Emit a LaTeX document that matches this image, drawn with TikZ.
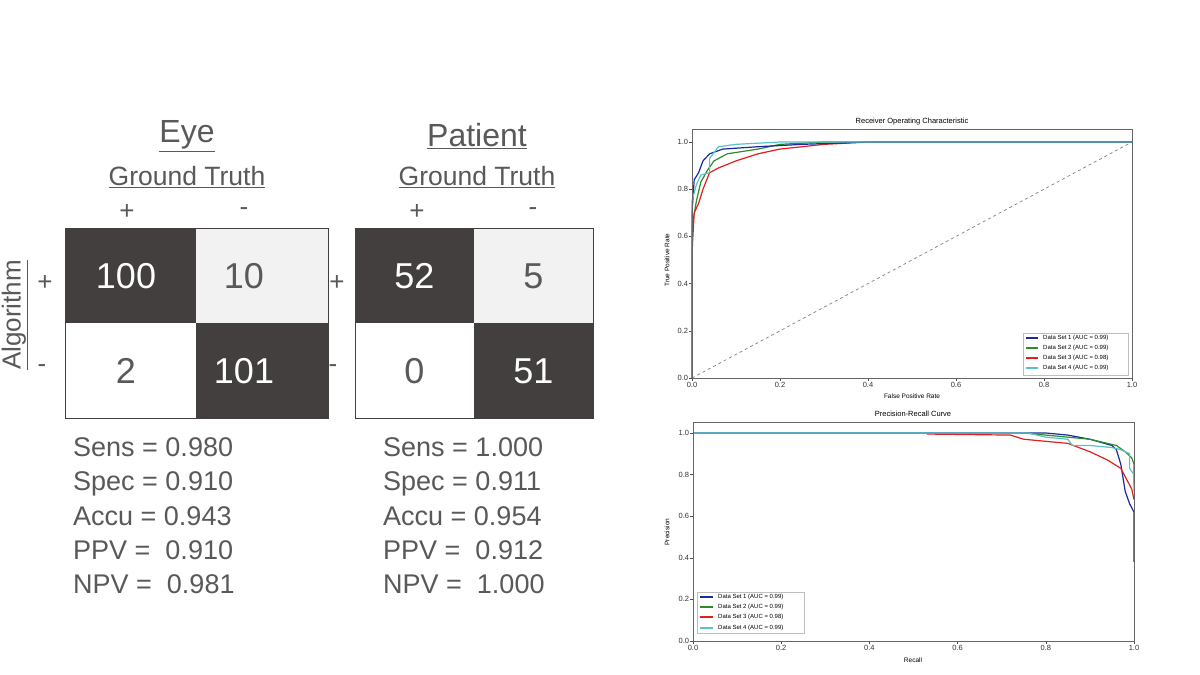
\documentclass[tikz,border=0pt]{standalone}
\usepackage{fontspec}
\setmainfont{Liberation Sans}
\begin{document}
\begin{tikzpicture}[x=1pt,y=-1pt,
  txt/.style={text=tgray,inner sep=0pt},
  dcell/.style={fill=dgray},
  lcell/.style={fill=lgray},
  big/.style={font=\fontsize{36}{36}\selectfont,inner sep=0pt},
  stat/.style={txt,anchor=base west,font=\fontsize{27}{27}\selectfont},
  tick/.style={font=\fontsize{7.5}{7.5}\selectfont,text=black!80,inner sep=1pt},
  leg/.style={font=\fontsize{6}{6}\selectfont,anchor=west,inner sep=0pt},
  cv/.style={line width=1.2pt,line join=round}]
\definecolor{tgray}{HTML}{595959}
\definecolor{dgray}{HTML}{433F3E}
\definecolor{lgray}{HTML}{F2F2F2}
\definecolor{cblue}{HTML}{1C2A9A}
\definecolor{cgreen}{HTML}{2E8B2E}
\definecolor{cred}{HTML}{E0201C}
\definecolor{ccyan}{HTML}{55C3C8}
\useasboundingbox (0,0) rectangle (1200,675);
\fill[white] (0,0) rectangle (1200,675);
% ---- Eye
\node[txt,font=\fontsize{32}{32}\selectfont] (eye) at (187,136) {\underline{Eye}};
\node[txt,font=\fontsize{26.5}{26.5}\selectfont] (gt1) at (187,177) {\underline{Ground Truth}};
\node[txt,font=\fontsize{26}{26}\selectfont] (p1) at (127,212) {+};
\node[txt,font=\fontsize{26}{26}\selectfont] (m1) at (244,212) {-};
\fill[dcell] (65,228) rectangle (196,323);
\fill[lcell] (196,228) rectangle (328,323);
\fill[white] (65,323) rectangle (196,418);
\fill[dcell] (196,323) rectangle (328,418);
\draw[dgray,line width=1pt] (65,228) rectangle (328,418);
\node[big,text=white] (e11) at (126,276) {100};
\node[big,text=tgray] (e12) at (244,276) {10};
\node[big,text=tgray] (e21) at (126,371) {2};
\node[big,text=white] (e22) at (244,371) {101};
% ---- Patient
\node[txt,font=\fontsize{32}{32}\selectfont] (pat) at (477,136) {\underline{Patient}};
\node[txt,font=\fontsize{26.5}{26.5}\selectfont] (gt2) at (477,177) {\underline{Ground Truth}};
\node[txt,font=\fontsize{26}{26}\selectfont] (p2) at (417,212) {+};
\node[txt,font=\fontsize{26}{26}\selectfont] (m2) at (533,212) {-};
\fill[dcell] (355,228) rectangle (474,323);
\fill[lcell] (474,228) rectangle (593,323);
\fill[white] (355,323) rectangle (474,418);
\fill[dcell] (474,323) rectangle (593,418);
\draw[dgray,line width=1pt] (355,228) rectangle (593,418);
\node[big,text=white] (p11) at (414.5,276) {52};
\node[big,text=tgray] (p12) at (533.5,276) {5};
\node[big,text=tgray] (p21) at (414.5,371) {0};
\node[big,text=white] (p22) at (533.5,371) {51};
% ---- Algorithm
\node[txt,font=\fontsize{26}{26}\selectfont,rotate=90] (alg) at (15,315) {\underline{Algorithm}};
\node[txt,font=\fontsize{26}{26}\selectfont] (ap1) at (45,283) {+};
\node[txt,font=\fontsize{26}{26}\selectfont] (am1) at (42,369) {-};
\node[txt,font=\fontsize{26}{26}\selectfont] (ap2) at (337,283) {+};
\node[txt,font=\fontsize{26}{26}\selectfont] (am2) at (333,369) {-};
% ---- stats
\node[stat] (s1) at (73,456) {Sens = 0.980};
\node[stat] (s2) at (73,490) {Spec = 0.910};
\node[stat] (s3) at (73,525) {Accu = 0.943};
\node[stat] (s4) at (73,559) {PPV =\ \ 0.910};
\node[stat] (s5) at (73,593) {NPV =\ \ 0.981};
\node[stat] (t1) at (383,456) {Sens = 1.000};
\node[stat] (t2) at (383,490) {Spec = 0.911};
\node[stat] (t3) at (383,525) {Accu = 0.954};
\node[stat] (t4) at (383,559) {PPV =\ \ 0.912};
\node[stat] (t5) at (383,593) {NPV =\ \ 1.000};
% ---- ROC
\node[font=\fontsize{7.5}{7.5}\selectfont] (roct) at (912,122) {Receiver Operating Characteristic};
\node[font=\fontsize{6.5}{6.5}\selectfont] (rocx) at (912,396) {False Positive Rate};
\node[font=\fontsize{6.5}{6.5}\selectfont,rotate=90] (rocy) at (667,260) {True Positive Rate};
\begin{scope}[shift={(692,378)},x=440pt,y=236pt]
\foreach \v in {0.0,0.2,0.4,0.6,0.8,1.0}{
  \draw[black!70,line width=0.4pt] (\v,0) -- (\v,-0.012);
  \node[tick,below] at (\v,-0.012) {\v};
  \draw[black!70,line width=0.4pt] (0,\v) -- (-0.006,\v);
  \node[tick,left] at (-0.006,\v) {\v};}
\draw[gray,dashed,line width=0.7pt] (0,0) -- (1,1);
\draw[cv,cgreen] (0,0)--(0,0.64)--(0.01,0.75)--(0.02,0.83)--(0.035,0.88)--(0.05,0.92)--(0.08,0.95)--(0.15,0.97)--(0.2,0.99)--(0.3,1)--(1,1);
\draw[cv,cred] (0,0)--(0,0.53)--(0.005,0.7)--(0.015,0.74)--(0.025,0.8)--(0.04,0.87)--(0.06,0.89)--(0.1,0.92)--(0.15,0.95)--(0.2,0.97)--(0.3,0.99)--(0.4,1)--(1,1);
\draw[cv,cblue] (0,0)--(0,0.7)--(0.005,0.84)--(0.015,0.87)--(0.025,0.92)--(0.04,0.95)--(0.07,0.97)--(0.15,0.98)--(0.25,0.99)--(0.4,1)--(1,1);
\draw[cv,ccyan] (0,0)--(0,0.75)--(0.01,0.82)--(0.02,0.86)--(0.04,0.87)--(0.04,0.93)--(0.06,0.98)--(0.1,0.99)--(0.2,1)--(1,1);
\draw[black!60,line width=0.5pt] (0,0) rectangle (1,1.053);
\end{scope}
\draw[black!25,fill=white] (1023,333) rectangle (1128,375);
\foreach \c/\t/\y in {cblue/1 (AUC = 0.99)/338,cgreen/2 (AUC = 0.99)/348,cred/3 (AUC = 0.98)/358,ccyan/4 (AUC = 0.99)/368}{
  \draw[\c,line width=1.2pt] (1026,\y) -- (1038,\y);
  \node[leg] at (1043,\y) {Data Set \t};}
% ---- PR
\node[font=\fontsize{7.5}{7.5}\selectfont] (prt) at (913,414) {Precision-Recall Curve};
\node[font=\fontsize{6.5}{6.5}\selectfont] (prx) at (913,660) {Recall};
\node[font=\fontsize{6.5}{6.5}\selectfont,rotate=90] (pry) at (667,532) {Precision};
\begin{scope}[shift={(693,641)},x=441pt,y=208pt]
\foreach \v in {0.0,0.2,0.4,0.6,0.8,1.0}{
  \draw[black!70,line width=0.4pt] (\v,0) -- (\v,-0.014);
  \node[tick,below] at (\v,-0.014) {\v};
  \draw[black!70,line width=0.4pt] (0,\v) -- (-0.006,\v);
  \node[tick,left] at (-0.006,\v) {\v};}
\draw[cv,cblue] (0,1)--(0.8,1)--(0.85,0.99)--(0.9,0.97)--(0.95,0.94)--(0.96,0.92)--(0.97,0.85)--(0.98,0.72)--(0.99,0.66)--(1,0.62)--(1,0.38);
\draw[cv,cred] (0.53,0.995)--(0.72,0.99)--(0.75,0.97)--(0.85,0.95)--(0.9,0.91)--(0.94,0.87)--(0.97,0.83)--(0.98,0.79)--(0.995,0.73)--(1,0.68);
\draw[cv,cgreen] (0.75,1)--(0.8,0.99)--(0.9,0.97)--(0.96,0.94)--(0.98,0.91)--(0.995,0.88)--(1,0.85)--(1,0.75);
\draw[cv,ccyan] (0,1)--(0.76,1)--(0.8,0.98)--(0.85,0.97)--(0.86,0.94)--(0.9,0.94)--(0.95,0.93)--(0.97,0.92)--(0.99,0.9)--(0.99,0.83)--(1,0.8)--(1,0.72);
\draw[black!60,line width=0.5pt] (0,0) rectangle (1,1.05);
\end{scope}
\draw[black!25,fill=white] (697,592) rectangle (804,633);
\foreach \c/\t/\y in {cblue/1 (AUC = 0.99)/597,cgreen/2 (AUC = 0.99)/607,cred/3 (AUC = 0.98)/617,ccyan/4 (AUC = 0.99)/628}{
  \draw[\c,line width=1.2pt] (700,\y) -- (713,\y);
  \node[leg] at (718,\y) {Data Set \t};}
\end{tikzpicture}
\end{document}
